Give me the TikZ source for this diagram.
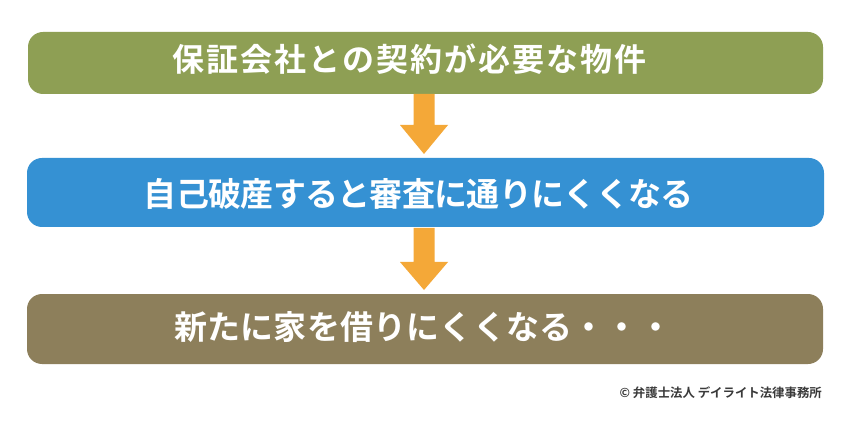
\documentclass[tikz,border=0pt]{standalone}
\usepackage{fontspec}
\newfontfamily\cjk{Noto Sans CJK JP}[BoldFont={Noto Sans CJK JP Bold}]
\definecolor{boxgreen}{HTML}{8E9F54}
\definecolor{boxblue}{HTML}{3591D3}
\definecolor{boxbrown}{HTML}{8D7F5B}
\definecolor{arroworange}{HTML}{F4A838}
\definecolor{copygray}{HTML}{3A3A3A}
\makeatletter
\newcommand\celltext[2]{\@tfor\cc:=#2\do{\makebox[#1]{\cc}}}
\makeatother
\tikzset{
  stepbox/.style={rounded corners=15pt, draw=none},
  boxtext/.style={text=white, inner sep=0pt, anchor=base west, font=\cjk\bfseries},
  downarrow/.style={fill=arroworange, draw=none},
}
\begin{document}
\begin{tikzpicture}[x=1pt,y=1pt]
\useasboundingbox (0,0) rectangle (850,423);
\fill[white] (0,0) rectangle (850,423);
% boxes (pixel coords, y flipped)
\fill[stepbox, boxgreen] (28,{423-94}) rectangle (823,{423-32});
\fill[stepbox, boxblue] (27,{423-227}) rectangle (824,{423-158});
\fill[stepbox, boxbrown] (27,{423-364}) rectangle (823,{423-294});
\node[boxtext, font=\cjk\bfseries\fontsize{32}{32}\selectfont] (t1) at (171,{423-72}) {\celltext{34pt}{保証会社との契約が必要な物件}};
\node[boxtext, font=\cjk\bfseries\fontsize{33}{33}\selectfont] (t2) at (144,{423-207}) {\celltext{32.3pt}{自己破産すると審査に通りにくくなる}};
\node[boxtext, font=\cjk\bfseries\fontsize{33}{33}\selectfont] (t3) at (174,{423-339}) {\celltext{33.2pt}{新たに家を借りにくくなる・・・}};
% arrows
\coordinate (a1) at (424,{423-94});
\coordinate (a2) at (424,{423-227});
\fill[downarrow] ([xshift=-10.5pt]a1) -- ([xshift=10.5pt]a1) -- ([xshift=10.5pt,yshift=-31pt]a1) -- ([xshift=24pt,yshift=-31pt]a1) -- ([yshift=-60pt]a1) -- ([xshift=-24pt,yshift=-31pt]a1) -- ([xshift=-10.5pt,yshift=-31pt]a1) -- cycle;
\fill[downarrow] ([xshift=-10.5pt,yshift=-1pt]a2) -- ([xshift=10.5pt,yshift=-1pt]a2) -- ([xshift=10.5pt,yshift=-35pt]a2) -- ([xshift=24pt,yshift=-35pt]a2) -- ([yshift=-63pt]a2) -- ([xshift=-24pt,yshift=-35pt]a2) -- ([xshift=-10.5pt,yshift=-35pt]a2) -- cycle;
% copyright
\node[anchor=east, inner sep=0pt, text=copygray, font=\cjk\bfseries\fontsize{12.4}{13}\selectfont] (copy) at (822,{423-393}) {© 弁護士法人 デイライト法律事務所};
\end{tikzpicture}
\end{document}
